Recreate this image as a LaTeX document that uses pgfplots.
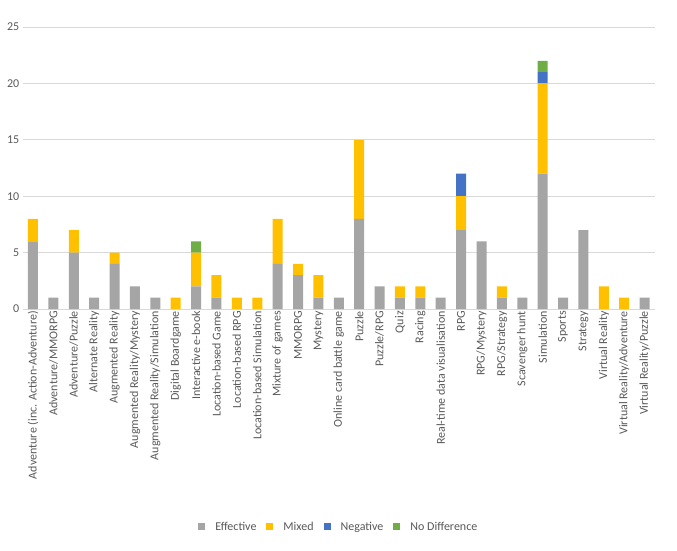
\documentclass[border=0pt]{standalone}
\usepackage{pgfplots}
\usepackage{pgfplotstable}
\pgfplotsset{compat=1.18}
\usepackage{fontspec}
\setmainfont{Carlito}
\definecolor{cgray}{HTML}{A5A5A5}
\definecolor{cgold}{HTML}{FFC000}
\definecolor{cblue}{HTML}{4472C4}
\definecolor{cgreen}{HTML}{70AD47}
\definecolor{ctext}{HTML}{595959}
\definecolor{cgrid}{HTML}{D9D9D9}
\pgfplotstableread{
x eff mix neg nod
0 6 2 0 0
1 1 0 0 0
2 5 2 0 0
3 1 0 0 0
4 4 1 0 0
5 2 0 0 0
6 1 0 0 0
7 0 1 0 0
8 2 3 0 1
9 1 2 0 0
10 0 1 0 0
11 0 1 0 0
12 4 4 0 0
13 3 1 0 0
14 1 2 0 0
15 1 0 0 0
16 8 7 0 0
17 2 0 0 0
18 1 1 0 0
19 1 1 0 0
20 1 0 0 0
21 7 3 2 0
22 6 0 0 0
23 1 1 0 0
24 1 0 0 0
25 12 8 1 1
26 1 0 0 0
27 7 0 0 0
28 0 2 0 0
29 0 1 0 0
30 1 0 0 0
}\data
\begin{document}
\begin{tikzpicture}[x=1pt,y=1pt]
\useasboundingbox (-33,-241) rectangle (644,309);
\begin{axis}[
  at={(0,0)}, anchor=origin,
  scale only axis, width=632pt, height=282pt,
  ybar stacked, bar width=10pt,
  xmin=-0.5, xmax=30.5, ymin=0, ymax=25,
  ytick={0,5,...,25},
  xtick=data,
  xticklabels={Adventure (inc. Action-Adventure),Adventure/MMORPG,Adventure/Puzzle,Alternate Reality,Augmented Reality,Augmented Reality/Mystery,Augmented Reality/Simulation,Digital Boardgame,Interactive e-book,Location-based Game,Location-based RPG,Location-based Simulation,Mixture of games,MMORPG,Mystery,Online card battle game,Puzzle,Puzzle/RPG,Quiz,Racing,Real-time data visualisation,RPG,RPG/Mystery,RPG/Strategy,Scavenger hunt,Simulation,Sports,Strategy,Virtual Reality,Virtual Reality/Adventure,Virtual Reality/Puzzle},
  xticklabel style={rotate=90, anchor=east, font=\fontsize{12}{14}\selectfont, text=ctext, inner sep=2pt},
  yticklabel style={font=\fontsize{12}{14}\selectfont, text=ctext},
  /pgf/number format/assume math mode=true,
  major tick length=0pt,
  ymajorgrids, grid style={cgrid, line width=0.8pt},
  axis x line*=bottom, axis y line*=left,
  x axis line style={cgrid, line width=0.8pt, -},
  y axis line style={draw=none},
  legend columns=4,
  legend style={at={(0.5,-0.773)}, anchor=center, draw=none, font=\fontsize{12}{14}\selectfont, text=ctext, column sep=8pt},
  legend image code/.code={\fill[#1] (0pt,-3.5pt) rectangle (7pt,3.5pt);},
]
\addplot[fill=cgray, draw=none] table[x=x,y=eff]{\data};
\addplot[fill=cgold, draw=none] table[x=x,y=mix]{\data};
\addplot[fill=cblue, draw=none] table[x=x,y=neg]{\data};
\addplot[fill=cgreen, draw=none] table[x=x,y=nod]{\data};
\legend{Effective,Mixed,Negative,No Difference}
\end{axis}
\end{tikzpicture}
\end{document}
